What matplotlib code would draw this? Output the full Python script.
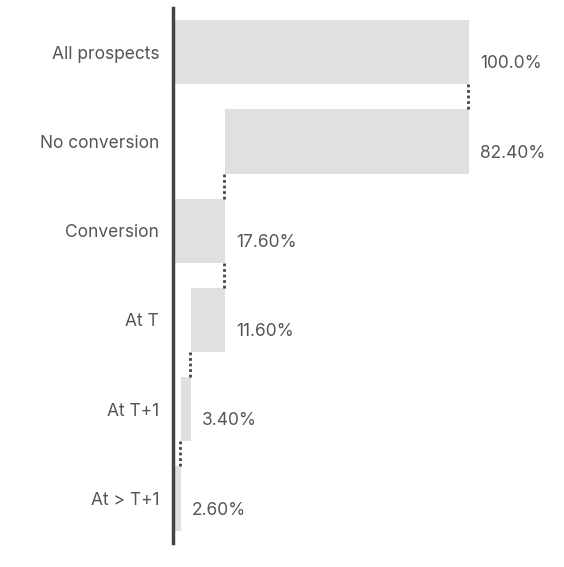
import matplotlib
matplotlib.use("Agg")
import matplotlib.pyplot as plt

# funnel split of prospects into conversion outcomes (percent of all prospects)
categories = ["All prospects", "No conversion", "Conversion", "At T", "At T+1", "At > T+1"]
values = [100.0, 82.4, 17.6, 11.6, 3.4, 2.6]
value_labels = ["100.0%", "82.40%", "17.60%", "11.60%", "3.40%", "2.60%"]

# left edge of each bar: totals start at 0, split parts stack right-to-left
lefts = [0.0,
         values[0] - values[1],
         0.0,
         values[2] - values[3],
         values[2] - values[3] - values[4],
         0.0]

plt.rcParams['font.family'] = ['Inter', 'DejaVu Sans']
bar_color = "#e1dfe0"
text_color = "#555555"

fig = plt.figure(figsize=(5.64, 5.67), dpi=100)
ax = fig.add_axes([0.3067, 0.0423, 0.6933, 0.944])

ys = list(range(len(categories)))
h = 0.72
ax.barh(ys, values, left=lefts, height=h, color=bar_color, zorder=1)

# dotted connectors from each bar down to the right edge of the next one
for i in range(len(values) - 1):
    x = lefts[i + 1] + values[i + 1] - 0.35
    ax.plot([x, x], [i + h / 2, i + 1 - h / 2], color="#444444",
            linestyle=(0, (1, 1)), linewidth=2, zorder=2)

for i, (l, v, lab) in enumerate(zip(lefts, values, value_labels)):
    ax.text(l + v + 3.6, i + 0.13, lab, va="center", ha="left",
            fontsize=12.5, color=text_color)

ax.set_xlim(0, 131.9)
ax.set_ylim(len(categories) - 0.5, -0.5)
ax.set_yticks(ys)
ax.set_yticklabels(categories, fontsize=12.5, color=text_color)
ax.tick_params(axis="y", length=0, pad=10)
ax.set_xticks([])
for side in ["top", "right", "bottom"]:
    ax.spines[side].set_visible(False)
ax.spines["left"].set_color("#444444")
ax.spines["left"].set_linewidth(2.5)

fig.savefig("out.png", dpi=100)
